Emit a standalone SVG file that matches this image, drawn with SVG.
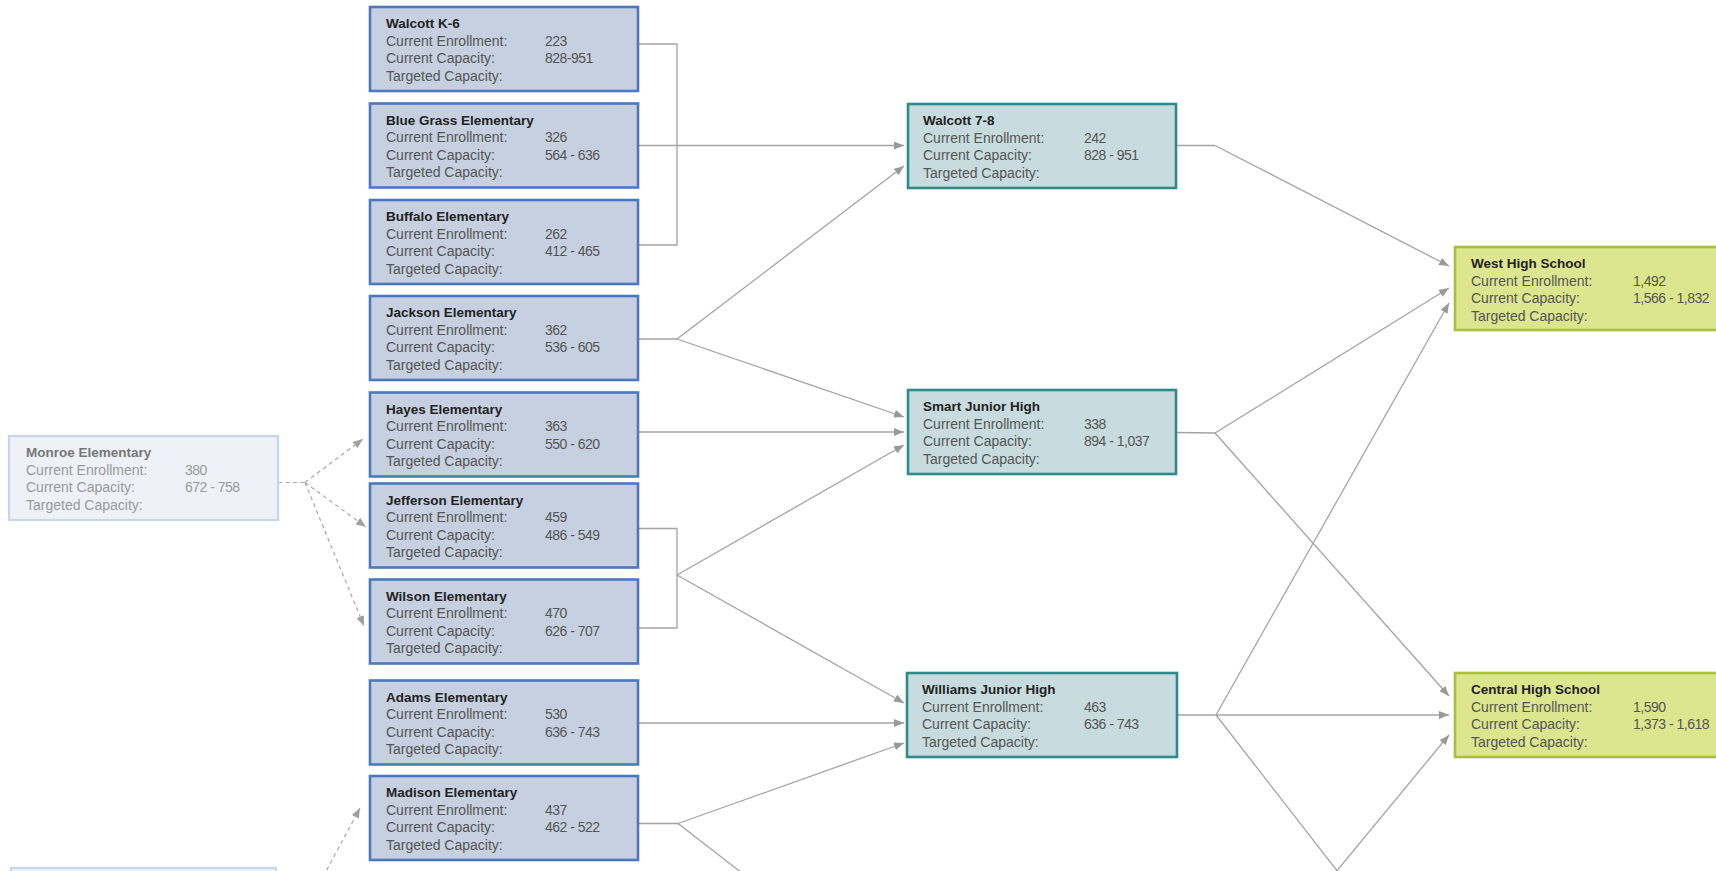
<svg xmlns="http://www.w3.org/2000/svg" width="1716" height="871" viewBox="0 0 1716 871">
<style>
text{font-family:"Liberation Sans",Arial,sans-serif;font-size:14px;fill:#555}
.t{font-weight:bold;font-size:13.5px;fill:#222}
.v{letter-spacing:-0.5px}
.elem rect{fill:#c6d0e0;stroke:#4a78c2;stroke-width:2.6}
.jr rect{fill:#c8dcdf;stroke:#2f8a8c;stroke-width:2.6}
.hs rect{fill:#dce68f;stroke:#a9c03c;stroke-width:2.6}
.faint rect{fill:#eef2f8;stroke:#c7d6ee;stroke-width:2.2}
.faint text{fill:#9a9a9a}
.faint .t{fill:#777}
.ln{fill:none;stroke:#a3a3a3;stroke-width:1.3}
.ar{marker-end:url(#ah)}
.ds{fill:none;stroke:#a8a8a8;stroke-width:1.2;stroke-dasharray:4 3.5}
.da{marker-end:url(#ahd)}
</style>
<defs>
<marker id="ah" markerUnits="userSpaceOnUse" viewBox="0 0 10 8" refX="10" refY="4" markerWidth="10" markerHeight="8" orient="auto"><path d="M0,0 L10,4 L0,8 z" fill="#999"/></marker>
<marker id="ahd" markerUnits="userSpaceOnUse" viewBox="0 0 10 8" refX="10" refY="4" markerWidth="10" markerHeight="8" orient="auto"><path d="M0,0 L10,4 L0,8 z" fill="#a0a0a0"/></marker>
</defs>
<rect width="1716" height="871" fill="#fff"/>

<g id="connectors">
<polyline class="ln" points="638,44 677,44 677,245 638,245"/>
<line class="ln ar" x1="638" y1="145.5" x2="904" y2="145.5"/>
<polyline class="ln" points="638,339 677,339"/>
<line class="ln ar" x1="677" y1="339" x2="904" y2="166"/>
<line class="ln ar" x1="677" y1="339" x2="904" y2="417"/>
<line class="ln ar" x1="638" y1="432" x2="904" y2="432"/>
<polyline class="ln" points="638,528.5 677,528.5 677,628 638,628"/>
<line class="ln ar" x1="677" y1="575" x2="904" y2="445"/>
<line class="ln ar" x1="677" y1="575" x2="904" y2="703"/>
<line class="ln ar" x1="638" y1="723" x2="904" y2="723"/>
<polyline class="ln" points="638,823.5 678,823.5"/>
<line class="ln ar" x1="678" y1="823.5" x2="904" y2="743"/>
<line class="ln" x1="678" y1="823.5" x2="764" y2="890"/>
<polyline class="ln" points="1176,145.5 1215,145.5"/>
<line class="ln ar" x1="1215" y1="145.5" x2="1449" y2="266"/>
<polyline class="ln" points="1176,432.5 1215,433"/>
<line class="ln ar" x1="1215" y1="433" x2="1449" y2="288"/>
<line class="ln ar" x1="1215" y1="433" x2="1449" y2="696"/>
<polyline class="ln" points="1177,715 1216,715"/>
<line class="ln ar" x1="1216" y1="715" x2="1449" y2="715"/>
<line class="ln ar" x1="1216" y1="715" x2="1449" y2="303"/>
<line class="ln" x1="1216" y1="715" x2="1352" y2="890"/>
<line class="ln ar" x1="1321" y1="890" x2="1449" y2="735"/>
<line class="ds" x1="278" y1="482.5" x2="305" y2="482.5"/>
<line class="ds da" x1="305" y1="482.5" x2="363" y2="439"/>
<line class="ds da" x1="305" y1="482.5" x2="366" y2="527"/>
<line class="ds da" x1="305" y1="482.5" x2="364" y2="626"/>
<line class="ds da" x1="316" y1="890" x2="360" y2="808"/>
</g>

<g id="monroe" class="faint" transform="translate(9,436)">
<rect width="269" height="84"/>
<text class="t" x="17" y="21">Monroe Elementary</text>
<text x="17" y="38.5">Current Enrollment:</text><text class="v" x="176" y="38.5">380</text>
<text x="17" y="56">Current Capacity:</text><text class="v" x="176" y="56">672 - 758</text>
<text x="17" y="73.5">Targeted Capacity:</text>
</g>

<g id="partial-bottom" class="faint" transform="translate(11,868)">
<rect width="265" height="84"/>
</g>

<g id="walcott-k6" class="elem" transform="translate(370,7)">
<rect width="268" height="84"/>
<text class="t" x="16" y="21">Walcott K-6</text>
<text x="16" y="38.5">Current Enrollment:</text><text class="v" x="175" y="38.5">223</text>
<text x="16" y="56">Current Capacity:</text><text class="v" x="175" y="56">828-951</text>
<text x="16" y="73.5">Targeted Capacity:</text>
</g>

<g id="blue-grass" class="elem" transform="translate(370,103.5)">
<rect width="268" height="84"/>
<text class="t" x="16" y="21">Blue Grass Elementary</text>
<text x="16" y="38.5">Current Enrollment:</text><text class="v" x="175" y="38.5">326</text>
<text x="16" y="56">Current Capacity:</text><text class="v" x="175" y="56">564 - 636</text>
<text x="16" y="73.5">Targeted Capacity:</text>
</g>

<g id="buffalo" class="elem" transform="translate(370,200)">
<rect width="268" height="84"/>
<text class="t" x="16" y="21">Buffalo Elementary</text>
<text x="16" y="38.5">Current Enrollment:</text><text class="v" x="175" y="38.5">262</text>
<text x="16" y="56">Current Capacity:</text><text class="v" x="175" y="56">412 - 465</text>
<text x="16" y="73.5">Targeted Capacity:</text>
</g>

<g id="jackson" class="elem" transform="translate(370,296)">
<rect width="268" height="84"/>
<text class="t" x="16" y="21">Jackson Elementary</text>
<text x="16" y="38.5">Current Enrollment:</text><text class="v" x="175" y="38.5">362</text>
<text x="16" y="56">Current Capacity:</text><text class="v" x="175" y="56">536 - 605</text>
<text x="16" y="73.5">Targeted Capacity:</text>
</g>

<g id="hayes" class="elem" transform="translate(370,392.5)">
<rect width="268" height="84"/>
<text class="t" x="16" y="21">Hayes Elementary</text>
<text x="16" y="38.5">Current Enrollment:</text><text class="v" x="175" y="38.5">363</text>
<text x="16" y="56">Current Capacity:</text><text class="v" x="175" y="56">550 - 620</text>
<text x="16" y="73.5">Targeted Capacity:</text>
</g>

<g id="jefferson" class="elem" transform="translate(370,483.5)">
<rect width="268" height="84"/>
<text class="t" x="16" y="21">Jefferson Elementary</text>
<text x="16" y="38.5">Current Enrollment:</text><text class="v" x="175" y="38.5">459</text>
<text x="16" y="56">Current Capacity:</text><text class="v" x="175" y="56">486 - 549</text>
<text x="16" y="73.5">Targeted Capacity:</text>
</g>

<g id="wilson" class="elem" transform="translate(370,579.5)">
<rect width="268" height="84"/>
<text class="t" x="16" y="21">Wilson Elementary</text>
<text x="16" y="38.5">Current Enrollment:</text><text class="v" x="175" y="38.5">470</text>
<text x="16" y="56">Current Capacity:</text><text class="v" x="175" y="56">626 - 707</text>
<text x="16" y="73.5">Targeted Capacity:</text>
</g>

<g id="adams" class="elem" transform="translate(370,680.5)">
<rect width="268" height="84"/>
<text class="t" x="16" y="21">Adams Elementary</text>
<text x="16" y="38.5">Current Enrollment:</text><text class="v" x="175" y="38.5">530</text>
<text x="16" y="56">Current Capacity:</text><text class="v" x="175" y="56">636 - 743</text>
<text x="16" y="73.5">Targeted Capacity:</text>
</g>

<g id="madison" class="elem" transform="translate(370,776)">
<rect width="268" height="84"/>
<text class="t" x="16" y="21">Madison Elementary</text>
<text x="16" y="38.5">Current Enrollment:</text><text class="v" x="175" y="38.5">437</text>
<text x="16" y="56">Current Capacity:</text><text class="v" x="175" y="56">462 - 522</text>
<text x="16" y="73.5">Targeted Capacity:</text>
</g>

<g id="walcott-78" class="jr" transform="translate(908,104)">
<rect width="268" height="84"/>
<text class="t" x="15" y="21">Walcott 7-8</text>
<text x="15" y="38.5">Current Enrollment:</text><text class="v" x="176" y="38.5">242</text>
<text x="15" y="56">Current Capacity:</text><text class="v" x="176" y="56">828 - 951</text>
<text x="15" y="73.5">Targeted Capacity:</text>
</g>

<g id="smart" class="jr" transform="translate(908,390)">
<rect width="268" height="84"/>
<text class="t" x="15" y="21">Smart Junior High</text>
<text x="15" y="38.5">Current Enrollment:</text><text class="v" x="176" y="38.5">338</text>
<text x="15" y="56">Current Capacity:</text><text class="v" x="176" y="56">894 - 1,037</text>
<text x="15" y="73.5">Targeted Capacity:</text>
</g>

<g id="williams" class="jr" transform="translate(907,673)">
<rect width="270" height="84"/>
<text class="t" x="15" y="21">Williams Junior High</text>
<text x="15" y="38.5">Current Enrollment:</text><text class="v" x="177" y="38.5">463</text>
<text x="15" y="56">Current Capacity:</text><text class="v" x="177" y="56">636 - 743</text>
<text x="15" y="73.5">Targeted Capacity:</text>
</g>

<g id="west-high" class="hs" transform="translate(1455,247)">
<rect width="280" height="83"/>
<text class="t" x="16" y="21">West High School</text>
<text x="16" y="38.5">Current Enrollment:</text><text class="v" x="178" y="38.5">1,492</text>
<text x="16" y="56">Current Capacity:</text><text class="v" x="178" y="56">1,566 - 1,832</text>
<text x="16" y="73.5">Targeted Capacity:</text>
</g>

<g id="central-high" class="hs" transform="translate(1455,673)">
<rect width="280" height="84"/>
<text class="t" x="16" y="21">Central High School</text>
<text x="16" y="38.5">Current Enrollment:</text><text class="v" x="178" y="38.5">1,590</text>
<text x="16" y="56">Current Capacity:</text><text class="v" x="178" y="56">1,373 - 1,618</text>
<text x="16" y="73.5">Targeted Capacity:</text>
</g>
</svg>
